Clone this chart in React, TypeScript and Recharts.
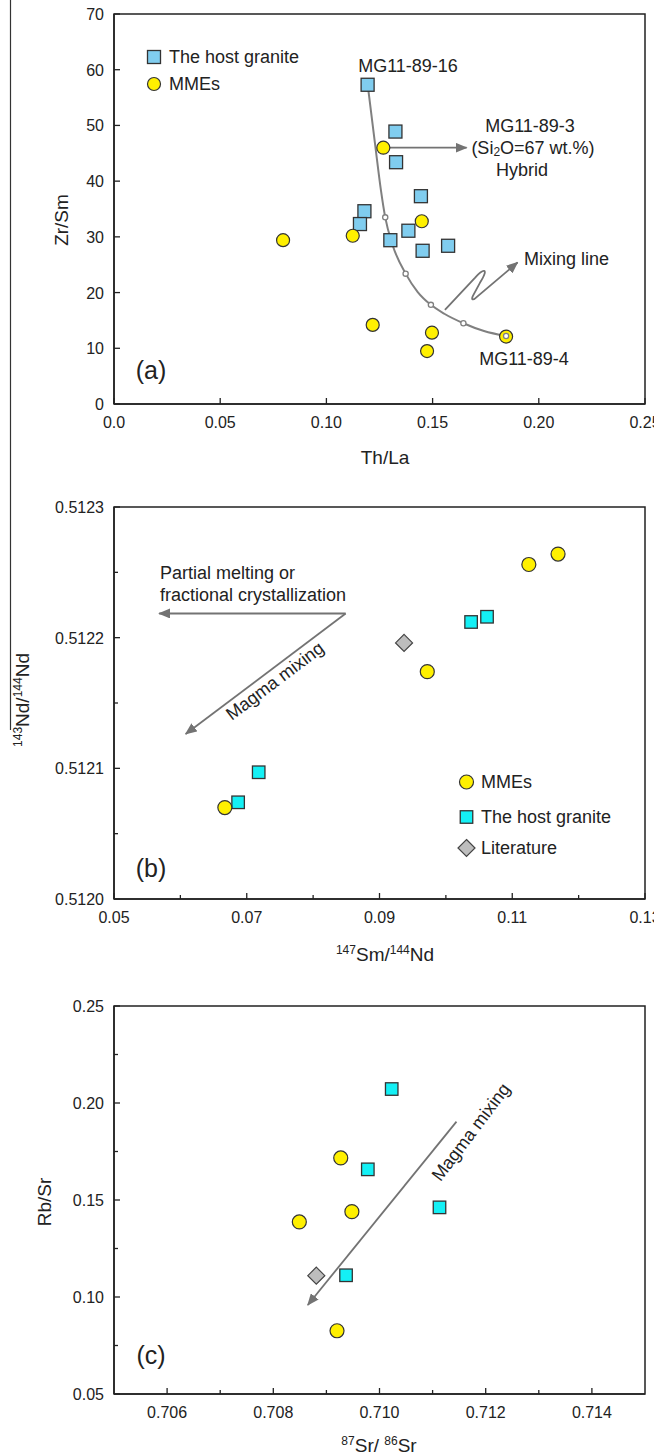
import React from 'react';
import { ComposedChart, Scatter, Line, XAxis, YAxis, ReferenceArea, ReferenceLine } from 'recharts';

// ---------- panel (a): Zr/Sm vs Th/La ----------
const aHostTh = [0.1194, 0.1325, 0.1328, 0.1445, 0.1179, 0.1158, 0.1386, 0.1301, 0.1573, 0.1453];
const aHostZr = [57.3, 48.9, 43.4, 37.3, 34.6, 32.3, 31.1, 29.4, 28.4, 27.5];
const aMmeTh = [0.1268, 0.0796, 0.1124, 0.1449, 0.1218, 0.1497, 0.1474, 0.1846];
const aMmeZr = [46.0, 29.4, 30.2, 32.8, 14.2, 12.8, 9.5, 12.1];
// mixing curve; node = small open circle on it
const mixTh = [0.1194, 0.1229, 0.1257, 0.1277, 0.1312, 0.1373, 0.143, 0.1492, 0.1555, 0.1645, 0.1742, 0.1846];
const mixZr = [57.4, 46.7, 38.3, 33.5, 28.5, 23.4, 20.1, 17.8, 16.2, 14.5, 13.1, 12.2];
const mixNode = [false, false, false, true, false, true, false, true, false, true, false, true];
const aXTicks = [0, 0.05, 0.1, 0.15, 0.2, 0.25];
const aXLabels = ['0.0', '0.05', '0.10', '0.15', '0.20', '0.25'];
const aYTicks = [0, 10, 20, 30, 40, 50, 60, 70];
const aYLabels = ['0', '10', '20', '30', '40', '50', '60', '70'];

// ---------- panel (b): 143Nd/144Nd vs 147Sm/144Nd ----------
const bMmeSm = [0.1169, 0.1125, 0.0972, 0.0667];
const bMmeNd = [0.512264, 0.512256, 0.512174, 0.51207];
const bHostSm = [0.1062, 0.1038, 0.0718, 0.0687];
const bHostNd = [0.512216, 0.512212, 0.512097, 0.512074];
const bLitSm = [0.0937];
const bLitNd = [0.512196];
const bXTicks = [0.05, 0.06, 0.07, 0.08, 0.09, 0.1, 0.11, 0.12, 0.13];
const bXLabels = ['0.05', '', '0.07', '', '0.09', '', '0.11', '', '0.13'];
const bYTicks = [0.512, 0.51205, 0.5121, 0.51215, 0.5122, 0.51225, 0.5123];
const bYLabels = ['0.5120', '', '0.5121', '', '0.5122', '', '0.5123'];

// ---------- panel (c): Rb/Sr vs 87Sr/86Sr ----------
const cMmeSr = [0.70927, 0.70849, 0.70948, 0.7092];
const cMmeRb = [0.1717, 0.1387, 0.144, 0.0826];
const cHostSr = [0.71023, 0.70978, 0.71113, 0.70937];
const cHostRb = [0.2072, 0.1658, 0.1462, 0.1112];
const cLitSr = [0.70881];
const cLitRb = [0.111];
const cXTicks = [0.706, 0.707, 0.708, 0.709, 0.71, 0.711, 0.712, 0.713, 0.714];
const cXLabels = ['0.706', '', '0.708', '', '0.710', '', '0.712', '', '0.714'];
const cYTicks = [0.05, 0.075, 0.1, 0.125, 0.15, 0.175, 0.2, 0.225, 0.25];
const cYLabels = ['0.05', '', '0.10', '', '0.15', '', '0.20', '', '0.25'];

const FONT = '"Liberation Sans", Arial, Helvetica, sans-serif';
const INK = '#222';
const ARROW = '#737373';
const YELLOW = '#FFF000';
const CYAN = '#14F0F5';
const SKY = '#80CDEF';
const GREY = '#BDBDBD';

const zip = (xs: number[], ys: number[]) => xs.map((x, i) => ({ x, y: ys[i] }));

const Square = ({ cx, cy, fill, s = 13 }: any) => (
  <rect x={cx - s / 2} y={cy - s / 2} width={s} height={s} fill={fill} stroke="#333" strokeWidth={1.3} />
);
const Dot = ({ cx, cy, r = 7 }: any) => <circle cx={cx} cy={cy} r={r} fill={YELLOW} stroke="#333" strokeWidth={1.2} />;
const Diamond = ({ cx, cy, d = 8.5 }: any) => (
  <polygon
    points={`${cx},${cy - d} ${cx + d},${cy} ${cx},${cy + d} ${cx - d},${cy}`}
    fill={GREY}
    stroke="#444"
    strokeWidth={1.2}
  />
);

function XTick({ x, y, index, labels }: any) {
  const label = labels[index];
  return (
    <g>
      <line x1={x} x2={x} y1={y} y2={y - (label ? 6 : 4)} stroke={INK} strokeWidth={1.3} />
      {label ? (
        <text x={x} y={y + 24} textAnchor="middle" fontSize={16} fill={INK} fontFamily={FONT}>
          {label}
        </text>
      ) : null}
    </g>
  );
}

function YTick({ x, y, index, labels }: any) {
  const label = labels[index];
  return (
    <g>
      <line x1={x} x2={x + (label ? 6 : 4)} y1={y} y2={y} stroke={INK} strokeWidth={1.3} />
      {label ? (
        <text x={x - 10} y={y + 6} textAnchor="end" fontSize={16} fill={INK} fontFamily={FONT}>
          {label}
        </text>
      ) : null}
    </g>
  );
}

const arrowShape = (p: any) => (
  <line x1={p.x1} y1={p.y1} x2={p.x2} y2={p.y2} stroke={ARROW} strokeWidth={1.8} markerEnd="url(#ah)" />
);

// leader from the curve to "Mixing line", with the little loop in it
const squiggleShape = (p: any) => {
  const { x1, y1, x2, y2 } = p;
  const d =
    `M${x1},${y1} L${x1 + 30},${y1 - 32} C${x1 + 38},${y1 - 41} ${x1 + 45},${y1 - 43} ${x1 + 35},${y1 - 27} ` +
    `L${x1 + 28},${y1 - 14} C${x1 + 26},${y1 - 10} ${x1 + 28},${y1 - 9} ${x1 + 32},${y1 - 13} L${x2},${y2}`;
  return <path d={d} fill="none" stroke={ARROW} strokeWidth={1.8} markerEnd="url(#ah)" />;
};

const axisLine = { stroke: INK, strokeWidth: 1.5 };

function axes(xDomain: number[], yDomain: number[], xTicks: number[], xLabels: string[], yTicks: number[], yLabels: string[], xHeight: number) {
  return [
    <XAxis
      key="x"
      type="number"
      dataKey="x"
      domain={xDomain}
      ticks={xTicks}
      interval={0}
      allowDataOverflow
      height={xHeight}
      tickSize={0}
      tickMargin={0}
      tickLine={false}
      axisLine={axisLine}
      tick={(p: any) => <XTick {...p} labels={xLabels} />}
    />,
    <YAxis
      key="y"
      type="number"
      dataKey="y"
      domain={yDomain}
      ticks={yTicks}
      interval={0}
      allowDataOverflow
      width={114}
      tickSize={0}
      tickMargin={0}
      tickLine={false}
      axisLine={axisLine}
      tick={(p: any) => <YTick {...p} labels={yLabels} />}
    />,
    <ReferenceArea
      key="frame"
      x1={xDomain[0]}
      x2={xDomain[1]}
      y1={yDomain[0]}
      y2={yDomain[1]}
      fill="none"
      fillOpacity={0}
      stroke={INK}
      strokeWidth={1.5}
      ifOverflow="visible"
    />,
  ];
}

const mixCurve = mixTh.map((x, i) => ({ x, y: mixZr[i], node: mixNode[i] }));

const renderNode = (p: any) =>
  p.payload && p.payload.node ? (
    <circle key={`n${p.index}`} cx={p.cx} cy={p.cy} r={2.6} fill="#fff" stroke="#808080" strokeWidth={1.3} />
  ) : (
    <g key={`n${p.index}`} />
  );

function PanelA() {
  return (
    <ComposedChart width={654} height={440} margin={{ top: 14, right: 9, bottom: 0, left: 0 }}>
      {axes([0, 0.25], [0, 70], aXTicks, aXLabels, aYTicks, aYLabels, 36)}
      <Scatter data={zip(aHostTh, aHostZr)} isAnimationActive={false} shape={(p: any) => <Square cx={p.cx} cy={p.cy} fill={SKY} />} />
      <Scatter data={zip(aMmeTh, aMmeZr)} isAnimationActive={false} shape={(p: any) => <Dot cx={p.cx} cy={p.cy} r={6.5} />} />
      <Line
        data={mixCurve}
        dataKey="y"
        type="monotone"
        stroke="#808080"
        strokeWidth={2}
        dot={renderNode}
        activeDot={false}
        isAnimationActive={false}
      />
      <ReferenceLine segment={[{ x: 0.1297, y: 46 }, { x: 0.166, y: 46 }]} shape={arrowShape} ifOverflow="visible" />
      <ReferenceLine segment={[{ x: 0.1558, y: 16.9 }, { x: 0.19, y: 25.4 }]} shape={squiggleShape} ifOverflow="visible" />
    </ComposedChart>
  );
}

function PanelB() {
  return (
    <ComposedChart width={654} height={520} margin={{ top: 67, right: 9, bottom: 0, left: 0 }}>
      {axes([0.05, 0.13], [0.512, 0.5123], bXTicks, bXLabels, bYTicks, bYLabels, 61)}
      <Scatter data={zip(bLitSm, bLitNd)} isAnimationActive={false} shape={(p: any) => <Diamond cx={p.cx} cy={p.cy} />} />
      <Scatter data={zip(bHostSm, bHostNd)} isAnimationActive={false} shape={(p: any) => <Square cx={p.cx} cy={p.cy} fill={CYAN} s={12.5} />} />
      <Scatter data={zip(bMmeSm, bMmeNd)} isAnimationActive={false} shape={(p: any) => <Dot cx={p.cx} cy={p.cy} />} />
      <ReferenceLine segment={[{ x: 0.0849, y: 0.5122185 }, { x: 0.0568, y: 0.5122185 }]} shape={arrowShape} ifOverflow="visible" />
      <ReferenceLine segment={[{ x: 0.0849, y: 0.5122185 }, { x: 0.0608, y: 0.5121263 }]} shape={arrowShape} ifOverflow="visible" />
    </ComposedChart>
  );
}

function PanelC() {
  return (
    <ComposedChart width={654} height={495} margin={{ top: 46, right: 9, bottom: 0, left: 0 }}>
      {axes([0.705, 0.715], [0.05, 0.25], cXTicks, cXLabels, cYTicks, cYLabels, 61)}
      <Scatter data={zip(cLitSr, cLitRb)} isAnimationActive={false} shape={(p: any) => <Diamond cx={p.cx} cy={p.cy} />} />
      <Scatter data={zip(cHostSr, cHostRb)} isAnimationActive={false} shape={(p: any) => <Square cx={p.cx} cy={p.cy} fill={CYAN} s={12.5} />} />
      <Scatter data={zip(cMmeSr, cMmeRb)} isAnimationActive={false} shape={(p: any) => <Dot cx={p.cx} cy={p.cy} />} />
      <ReferenceLine segment={[{ x: 0.71145, y: 0.1904 }, { x: 0.70865, y: 0.0959 }]} shape={arrowShape} ifOverflow="visible" />
    </ComposedChart>
  );
}

const T = ({ x, y, size = 18, anchor = 'middle', rotate = 0, children }: any) => (
  <text
    x={x}
    y={y}
    fontSize={size}
    textAnchor={anchor}
    dominantBaseline="central"
    fill={INK}
    fontFamily={FONT}
    transform={rotate ? `rotate(${rotate} ${x} ${y})` : undefined}
  >
    {children}
  </text>
);

function Overlay() {
  return (
    <svg width={654} height={1455} style={{ position: 'absolute', left: 0, top: 0, pointerEvents: 'none' }}>
      <line x1={10.5} x2={10.5} y1={0} y2={730} stroke="#333" strokeWidth={1.2} />

      {/* panel (a) */}
      <Square cx={154} cy={57} fill={SKY} />
      <T x={169} y={57} anchor="start">The host granite</T>
      <Dot cx={154} cy={84} r={6.5} />
      <T x={169} y={84} anchor="start">MMEs</T>
      <T x={408} y={66}>MG11-89-16</T>
      <T x={530} y={126}>MG11-89-3</T>
      <text x={533} y={148} fontSize={18} textAnchor="middle" dominantBaseline="central" fill={INK} fontFamily={FONT}>
        (Si<tspan fontSize={12} dy={4}>2</tspan>
        <tspan dy={-4}>O=67 wt.%)</tspan>
      </text>
      <T x={522} y={170}>Hybrid</T>
      <T x={524} y={259} anchor="start">Mixing line</T>
      <T x={524} y={359}>MG11-89-4</T>
      <T x={151} y={370} size={25}>(a)</T>
      <T x={61} y={220} size={19} rotate={-90}>Zr/Sm</T>
      <T x={385} y={457} size={19}>Th/La</T>

      {/* panel (b) */}
      <T x={160} y={573} anchor="start">Partial melting or</T>
      <T x={160} y={595} anchor="start">fractional crystallization</T>
      <T x={275} y={681} rotate={-37}>Magma mixing</T>
      <Dot cx={466.5} cy={782} />
      <T x={481} y={782} anchor="start">MMEs</T>
      <Square cx={466.5} cy={817} fill={CYAN} s={12.5} />
      <T x={481} y={817} anchor="start">The host granite</T>
      <Diamond cx={466.5} cy={848} />
      <T x={481} y={848} anchor="start">Literature</T>
      <T x={151} y={868} size={25}>(b)</T>
      <text x={29} y={700} fontSize={19} textAnchor="middle" fill={INK} fontFamily={FONT} transform="rotate(-90 29 700)">
        <tspan fontSize={12} dy={-7}>143</tspan>
        <tspan dy={7}>Nd/</tspan>
        <tspan fontSize={12} dy={-7}>144</tspan>
        <tspan dy={7}>Nd</tspan>
      </text>
      <text x={385} y={961} fontSize={19} textAnchor="middle" fill={INK} fontFamily={FONT}>
        <tspan fontSize={12} dy={-7}>147</tspan>
        <tspan dy={7}>Sm/</tspan>
        <tspan fontSize={12} dy={-7}>144</tspan>
        <tspan dy={7}>Nd</tspan>
      </text>

      {/* panel (c) */}
      <T x={471} y={1132} rotate={-53}>Magma mixing</T>
      <T x={151} y={1355} size={25}>(c)</T>
      <T x={44} y={1202} size={19} rotate={-90}>Rb/Sr</T>
      <text x={379} y={1452} fontSize={19} textAnchor="middle" fill={INK} fontFamily={FONT}>
        <tspan fontSize={12} dy={-7}>87</tspan>
        <tspan dy={7}>Sr/ </tspan>
        <tspan fontSize={12} dy={-7}>86</tspan>
        <tspan dy={7}>Sr</tspan>
      </text>
    </svg>
  );
}

export default function App() {
  return (
    <div style={{ position: 'absolute', left: 0, top: 0, width: 654, height: 1455, background: '#fff', fontFamily: FONT, overflow: 'hidden' }}>
      <svg width={0} height={0} style={{ position: 'absolute' }}>
        <defs>
          <marker id="ah" viewBox="0 0 12 10" refX="11" refY="5" markerWidth="12" markerHeight="10" markerUnits="userSpaceOnUse" orient="auto">
            <path d="M0,0 L12,5 L0,10 z" fill={ARROW} />
          </marker>
        </defs>
      </svg>
      <div style={{ position: 'absolute', left: 0, top: 0 }}>
        <PanelA />
      </div>
      <div style={{ position: 'absolute', left: 0, top: 440 }}>
        <PanelB />
      </div>
      <div style={{ position: 'absolute', left: 0, top: 960 }}>
        <PanelC />
      </div>
      <Overlay />
    </div>
  );
}
